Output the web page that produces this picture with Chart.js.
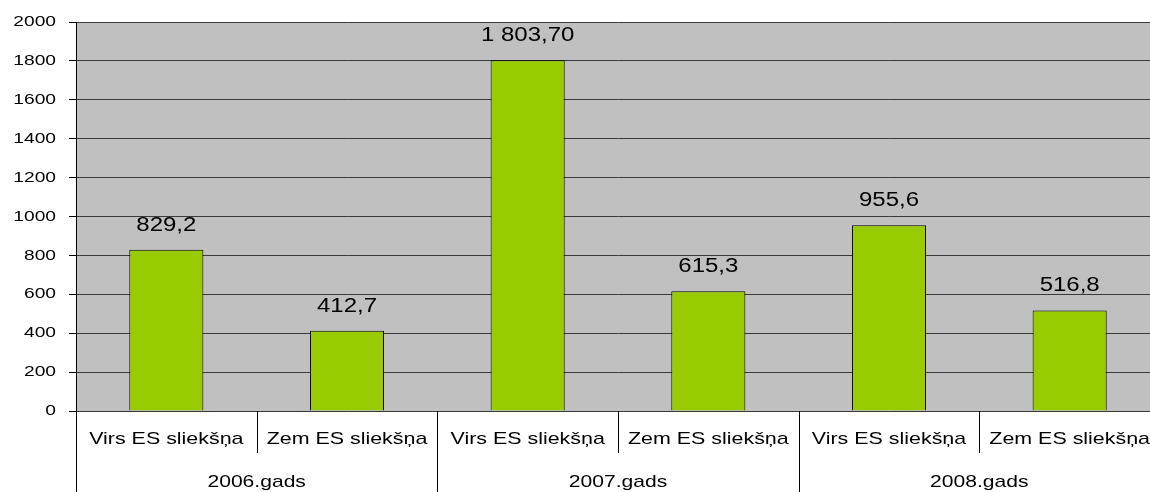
<!DOCTYPE html>
<html>
<head>
<meta charset="utf-8">
<script src="https://cdn.jsdelivr.net/npm/chart.js@4/dist/chart.umd.min.js"></script>
<style>
  body { margin: 0; overflow: hidden; background: #fff; }
  .wrap { width: 1160px; height: 492px; }
</style>
</head>
<body>
<div class="wrap"><canvas class="my-chart"></canvas></div>
<script>
const subLabels = ["Virs ES sliekšņa", "Zem ES sliekšņa", "Virs ES sliekšņa", "Zem ES sliekšņa", "Virs ES sliekšņa", "Zem ES sliekšņa"];
const years = ["2006.gads", "2007.gads", "2008.gads"];
const values = [829.2, 412.7, 1803.7, 615.3, 955.6, 516.8];
const valueLabels = ["829,2", "412,7", "1 803,70", "615,3", "955,6", "516,8"];
const yTicks = [0, 200, 400, 600, 800, 1000, 1200, 1400, 1600, 1800, 2000];

const font = "'Liberation Sans', Arial, sans-serif";

// text in the original is a bit wider than normal Arial
function wideText(ctx, txt, x, y, sx, align) {
  const w = ctx.measureText(txt).width * sx;
  let left = x;
  if (align === "center") left = x - w / 2;
  if (align === "right") left = x - w;
  ctx.save();
  ctx.translate(left, y);
  ctx.scale(sx, 1);
  ctx.textAlign = "left";
  ctx.fillText(txt, 0, 0);
  ctx.restore();
}

// gray plot background
const plotBg = {
  id: "plotBg",
  beforeDraw(chart) {
    const { ctx, chartArea: a } = chart;
    ctx.save();
    ctx.fillStyle = "#c0c0c0";
    ctx.fillRect(a.left, a.top, a.right - a.left, a.bottom - a.top);
    ctx.restore();
  }
};

// tick labels, value labels + two level category axis
const extras = {
  id: "extras",
  afterDraw(chart) {
    const { ctx, chartArea: a, scales } = chart;
    const x = scales.x;
    const yS = scales.y;
    const h = chart.height;
    const meta = chart.getDatasetMeta(0);
    ctx.save();
    ctx.fillStyle = "#000";
    ctx.textBaseline = "middle";
    ctx.font = "15px " + font;
    yTicks.forEach(v => {
      wideText(ctx, String(v), 56, yS.getPixelForValue(v), 1.28, "right");
    });

    ctx.textBaseline = "alphabetic";
    ctx.font = "20px " + font;
    meta.data.forEach((bar, i) => {
      wideText(ctx, valueLabels[i], bar.x, bar.y - 19, 1.2, "center");
    });

    const half = (x.getPixelForValue(1) - x.getPixelForValue(0)) / 2;
    ctx.strokeStyle = "#000";
    ctx.lineWidth = 1;
    ctx.font = "17px " + font;
    subLabels.forEach((lab, i) => {
      const cx = x.getPixelForValue(i);
      wideText(ctx, lab, cx, a.bottom + 33, 1.26, "center");
      const sx = Math.round(cx + half) + 0.5;
      ctx.beginPath();
      ctx.moveTo(sx, a.bottom);
      ctx.lineTo(sx, i % 2 === 0 ? a.bottom + 42 : h);
      ctx.stroke();
    });
    years.forEach((y, j) => {
      const cx = (x.getPixelForValue(2 * j) + x.getPixelForValue(2 * j + 1)) / 2;
      wideText(ctx, y, cx, a.bottom + 76, 1.24, "center");
    });
    const lx = Math.round(a.left) + 0.5;
    ctx.beginPath();
    ctx.moveTo(lx, a.top);
    ctx.lineTo(lx, h);
    ctx.stroke();
    ctx.restore();
  }
};

const myChart = document.querySelector(".my-chart");
new Chart(myChart, {
  type: "bar",
  data: {
    labels: subLabels,
    datasets: [
      {
        data: values,
        backgroundColor: "#99cc00",
        borderColor: "#000",
        borderWidth: 1,
        barPercentage: 0.41,
        categoryPercentage: 1
      }
    ]
  },
  plugins: [plotBg, extras],
  options: {
    responsive: true,
    maintainAspectRatio: false,
    animation: false,
    layout: { padding: { top: 22, bottom: 81, left: 0, right: 0 } },
    plugins: { legend: { display: false }, tooltip: { enabled: false } },
    scales: {
      x: { display: false },
      y: {
        min: 0,
        max: 2000,
        ticks: { stepSize: 200, color: "rgba(0,0,0,0)", padding: 13, font: { family: font, size: 14 } },
        grid: { color: "#3a3a3a", tickColor: "#000", tickLength: 7 },
        border: { color: "#000" },
        afterFit(scale) { scale.width = 76; }
      }
    }
  }
});
</script>
</body>
</html>
